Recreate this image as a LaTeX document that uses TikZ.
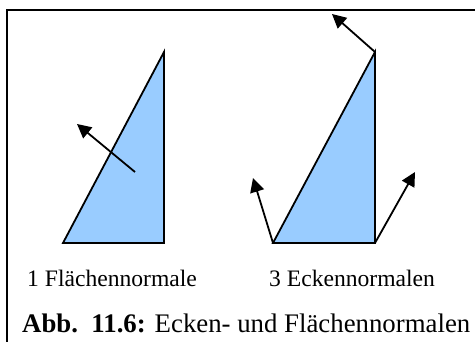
\documentclass[tikz,border=0pt]{standalone}
\usepackage{fontspec}
\setmainfont{Liberation Serif}
\usetikzlibrary{arrows.meta}
\definecolor{flaeche}{RGB}{153,204,255}
\tikzset{
  kante/.style={line width=1.8pt, fill=flaeche, line join=miter},
  normale/.style={line width=1.8pt, -{Triangle[length=14pt,width=14pt]}},
  beschr/.style={anchor=base west, inner sep=0pt, font=\fontsize{23.6}{28}\selectfont},
  titel/.style={anchor=base west, inner sep=0pt, font=\fontsize{26.8}{32}\selectfont}
}
\begin{document}
\begin{tikzpicture}[x=1pt,y=-1pt]
  \clip (0,0) rectangle (475,342);
  \useasboundingbox (0,0) rectangle (475,342);
  \draw[line width=2.6pt] (7,10) rectangle (490,360);
  % Flaechennormale
  \coordinate (A1) at (63,243);
  \coordinate (B1) at (164,243);
  \coordinate (C1) at (164,52);
  \draw[kante] (A1) -- (B1) -- (C1) -- cycle;
  \coordinate (M1) at (135,172);
  \coordinate (N1) at (77,124);
  \draw[normale] (M1) -- (N1);
  % Eckennormalen
  \coordinate (A2) at (273,243);
  \coordinate (B2) at (375,243);
  \coordinate (C2) at (375,52);
  \draw[kante] (A2) -- (B2) -- (C2) -- cycle;
  \coordinate (NA) at (253,178);
  \coordinate (NB) at (415,172);
  \coordinate (NC) at (332,14);
  \draw[normale] (A2) -- (NA);
  \draw[normale] (B2) -- (NB);
  \draw[normale] (C2) -- (NC);
  % Beschriftung
  \node[beschr] (t1) at (27,287) {1 Flächennormale};
  \node[beschr] (t2) at (269,287) {3 Eckennormalen};
  \node[titel] (cap) at (22,333) {\textbf{Abb.\ \ 11.6:} Ecken- und Flächennormalen};
\end{tikzpicture}
\end{document}
